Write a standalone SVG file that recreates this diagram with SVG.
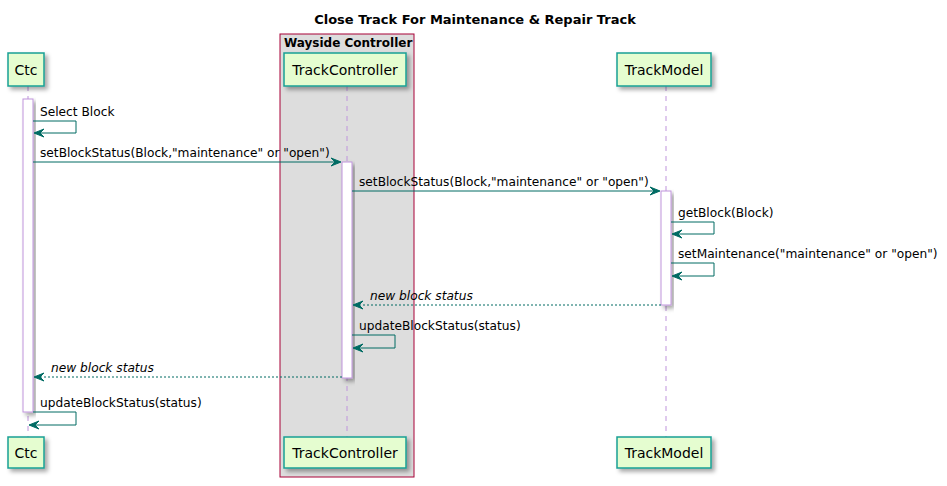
<svg xmlns="http://www.w3.org/2000/svg" width="947" height="486" viewBox="0 0 947 486">
<style>
.t{font-family:"DejaVu Sans",sans-serif;font-size:12.2px;fill:#000}
.ti{font-family:"DejaVu Sans",sans-serif;font-size:12.2px;font-style:italic;fill:#000}
.pt{font-family:"DejaVu Sans",sans-serif;font-size:14px;fill:#000;text-anchor:middle}
.title{font-family:"DejaVu Sans",sans-serif;font-size:13px;font-weight:bold;text-anchor:middle}
.gl{font-family:"DejaVu Sans",sans-serif;font-size:12px;font-weight:bold}
.p{fill:#E5FDD0;stroke:#17A095;stroke-width:1.5}
.life{stroke:#BF94DC;stroke-width:1;stroke-dasharray:5,5}
.act{fill:#FFFFFF;stroke:#BF94DC;stroke-width:1}
.m{fill:none;stroke:#006B63;stroke-width:1}
.r{fill:none;stroke:#006B63;stroke-width:1;stroke-dasharray:2,2}
.ah{fill:#006B63;stroke:#006B63;stroke-width:1}
</style>
<defs>
<filter id="sh" x="-20%" y="-20%" width="150%" height="150%">
<feDropShadow dx="3" dy="3" stdDeviation="2" flood-color="#000" flood-opacity="0.35"/>
</filter>
</defs>
<rect width="947" height="486" fill="#FFFFFF"/>
<text class="title" x="475" y="24">Close Track For Maintenance &amp; Repair Track</text>

<g id="group-wayside">
<rect x="280" y="34" width="134" height="443" fill="#DDDDDD" stroke="#A80036" stroke-width="1"/>
<text class="gl" x="284" y="47">Wayside Controller</text>
</g>

<g id="lifelines">
<line class="life" x1="28" y1="86" x2="28" y2="437"/>
<line class="life" x1="347" y1="86" x2="347" y2="437"/>
<line class="life" x1="666" y1="86" x2="666" y2="437"/>
</g>

<g id="activations">
<rect class="act" x="23" y="99" width="10" height="313" filter="url(#sh)"/>
<rect class="act" x="342" y="162" width="10" height="216" filter="url(#sh)"/>
<rect class="act" x="661" y="191" width="10" height="114" filter="url(#sh)"/>
</g>

<g id="node-ctc">
<rect class="p" x="8" y="53" width="36" height="33" filter="url(#sh)"/>
<text class="pt" x="26" y="75">Ctc</text>
<rect class="p" x="8" y="437" width="36" height="31" filter="url(#sh)"/>
<text class="pt" x="26" y="458">Ctc</text>
</g>

<g id="node-trackcontroller">
<rect class="p" x="284" y="53" width="122" height="33" filter="url(#sh)"/>
<text class="pt" x="345" y="75">TrackController</text>
<rect class="p" x="284" y="437" width="122" height="31" filter="url(#sh)"/>
<text class="pt" x="345" y="458">TrackController</text>
</g>

<g id="node-trackmodel">
<rect class="p" x="617" y="53" width="94" height="33" filter="url(#sh)"/>
<text class="pt" x="664" y="75">TrackModel</text>
<rect class="p" x="617" y="437" width="94" height="31" filter="url(#sh)"/>
<text class="pt" x="664" y="458">TrackModel</text>
</g>

<g id="connectors">
<polyline class="m" points="33,121 76,121 76,133 35,133"/>
<polygon class="ah" points="44,129 34,133 44,137 40,133"/>
<text class="t" x="40" y="116">Select Block</text>
<line class="m" x1="33" y1="162" x2="340" y2="162"/>
<polygon class="ah" points="331,158 341,162 331,166 335,162"/>
<text class="t" x="40" y="157">setBlockStatus(Block,"maintenance" or "open")</text>
<line class="m" x1="352" y1="191" x2="659" y2="191"/>
<polygon class="ah" points="650,187 660,191 650,195 654,191"/>
<text class="t" x="359" y="186">setBlockStatus(Block,"maintenance" or "open")</text>
<polyline class="m" points="671,222 714,222 714,234 673,234"/>
<polygon class="ah" points="682,230 672,234 682,238 678,234"/>
<text class="t" x="678" y="217">getBlock(Block)</text>
<polyline class="m" points="671,263 714,263 714,276 673,276"/>
<polygon class="ah" points="682,272 672,276 682,280 678,276"/>
<text class="t" x="678" y="258">setMaintenance("maintenance" or "open")</text>
<line class="r" x1="661" y1="305" x2="354" y2="305"/>
<polygon class="ah" points="363,301 353,305 363,309 359,305"/>
<text class="ti" x="370" y="300">new block status</text>
<polyline class="m" points="352,335 395,335 395,348 354,348"/>
<polygon class="ah" points="363,344 353,348 363,352 359,348"/>
<text class="t" x="359" y="330">updateBlockStatus(status)</text>
<line class="r" x1="342" y1="377" x2="35" y2="377"/>
<polygon class="ah" points="44,373 34,377 44,381 40,377"/>
<text class="ti" x="51" y="372">new block status</text>
<polyline class="m" points="33,412 76,412 76,425 30,425"/>
<polygon class="ah" points="39,421 29,425 39,429 35,425"/>
<text class="t" x="40" y="407">updateBlockStatus(status)</text>
</g>
</svg>
